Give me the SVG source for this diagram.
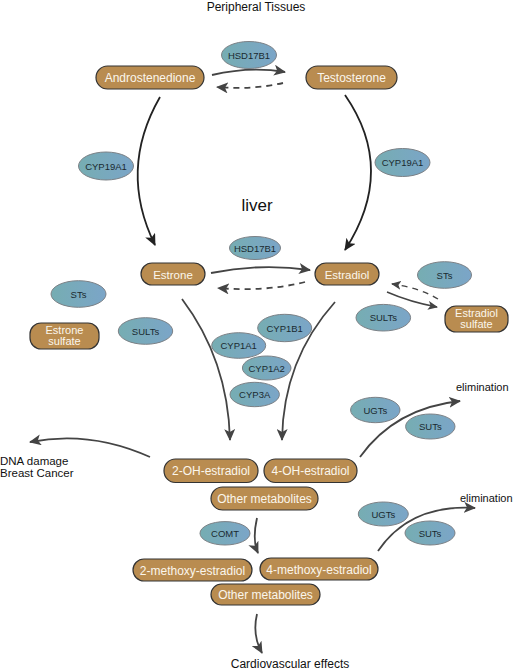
<svg xmlns="http://www.w3.org/2000/svg" width="513" height="671" viewBox="0 0 513 671">
<defs>
<linearGradient id="eg" x1="0" y1="0" x2="1" y2="0">
<stop offset="0" stop-color="#76adb2"/>
<stop offset="1" stop-color="#7ba5c8"/>
</linearGradient>
<marker id="ah" markerUnits="userSpaceOnUse" markerWidth="13" markerHeight="11" refX="11" refY="5.5" orient="auto">
<path d="M0,0 L12,5.5 L0,11 L3,5.5 z" fill="#444"/>
</marker>
<marker id="ahk" markerUnits="userSpaceOnUse" markerWidth="13" markerHeight="11" refX="11" refY="5.5" orient="auto">
<path d="M0,0 L12,5.5 L0,11 L3,5.5 z" fill="#222"/>
</marker>
<marker id="ahs" markerUnits="userSpaceOnUse" markerWidth="11" markerHeight="9" refX="9" refY="4.5" orient="auto">
<path d="M0,0 L10,4.5 L0,9 L2.5,4.5 z" fill="#444"/>
</marker>
</defs>
<style>
.n rect{fill:#b98c50;stroke:#333;stroke-width:1.2}
.n text{fill:#fbf6ec;font-family:"Liberation Sans",Arial,sans-serif;font-size:12px;text-anchor:middle}
.e ellipse{fill:url(#eg);stroke:#7c8186;stroke-width:1}
.e text{fill:#1a2a30;font-family:"Liberation Sans",Arial,sans-serif;font-size:9.5px;text-anchor:middle}
.lbl{fill:#111;font-family:"Liberation Sans",Arial,sans-serif;font-size:12px}
.c path{fill:none;stroke:#444;stroke-width:1.8;marker-end:url(#ah)}
.c path.k{stroke:#222;marker-end:url(#ahk)}
.c path.d{stroke-dasharray:6,5}
.c path.s{stroke-width:1.4;marker-end:url(#ahs)}
</style>

<text class="lbl" x="256" y="11" text-anchor="middle">Peripheral Tissues</text>
<text class="lbl" x="257" y="211" text-anchor="middle" style="font-size:17px">liver</text>
<text class="lbl" x="456" y="391" style="font-size:11px">elimination</text>
<text class="lbl" x="460" y="502" style="font-size:11px">elimination</text>
<text class="lbl" x="0" y="465" style="font-size:11.5px">DNA damage</text>
<text class="lbl" x="0" y="477" style="font-size:11.5px">Breast Cancer</text>
<text class="lbl" x="290" y="668" text-anchor="middle">Cardiovascular effects</text>

<g class="c" id="connectors">
<path d="M212,75 Q250,66 285,72"/>
<path class="d" d="M283,83 Q252,90 217,87"/>
<path class="k" d="M160,97 Q118,170 155,245"/>
<path class="k" d="M345,95 Q397,170 345,250"/>
<path d="M211,273 Q260,263 310,270"/>
<path class="d" d="M305,282 Q265,292 218,288"/>
<path class="d s" d="M438,299 Q420,288 392,284"/>
<path class="s" d="M387,292 Q410,302 437,307"/>
<path d="M182,299 Q228,360 230,440"/>
<path d="M335,302 Q283,360 282,440"/>
<path d="M360,457 Q395,408 460,401"/>
<path d="M150,457 Q90,430 30,442"/>
<path d="M378,551 Q410,504 475,508"/>
<path d="M257,518 Q252,540 258,553"/>
<path d="M257,614 Q252,635 262,653"/>
</g>

<g class="n" id="androstenedione"><rect x="96" y="66" width="108" height="23" rx="11.5"/><text x="150" y="82">Androstenedione</text></g>
<g class="n" id="testosterone"><rect x="306" y="66" width="91" height="23" rx="11.5"/><text x="351.5" y="82">Testosterone</text></g>
<g class="n" id="estrone"><rect x="141" y="263" width="64" height="22" rx="11"/><text x="173" y="278.5" style="font-size:11.5px">Estrone</text></g>
<g class="n" id="estradiol"><rect x="315" y="263" width="64" height="22" rx="11"/><text x="347" y="278.5" style="font-size:11.5px">Estradiol</text></g>
<g class="n" id="estrone-sulfate"><rect x="30" y="323" width="69" height="26" rx="11"/><text x="64.5" y="334" style="font-size:11px">Estrone</text><text x="64.5" y="345" style="font-size:11px">sulfate</text></g>
<g class="n" id="estradiol-sulfate"><rect x="445" y="306" width="63" height="26" rx="11"/><text x="476.5" y="317" style="font-size:11px">Estradiol</text><text x="476.5" y="328" style="font-size:11px">sulfate</text></g>
<g class="n" id="oh2"><rect x="164" y="459" width="94" height="23.5" rx="11.5"/><text x="211" y="475">2-OH-estradiol</text></g>
<g class="n" id="oh4"><rect x="264" y="459" width="93" height="23.5" rx="11.5"/><text x="310.5" y="475">4-OH-estradiol</text></g>
<g class="n" id="other1"><rect x="211" y="487" width="107" height="23" rx="11.5"/><text x="264.5" y="503">Other metabolites</text></g>
<g class="n" id="methoxy2"><rect x="133" y="559" width="119" height="22" rx="11"/><text x="192.5" y="574.5">2-methoxy-estradiol</text></g>
<g class="n" id="methoxy4"><rect x="260" y="558" width="118" height="22" rx="11"/><text x="319" y="573.5">4-methoxy-estradiol</text></g>
<g class="n" id="other2"><rect x="211" y="584" width="109" height="21" rx="10.5"/><text x="265.5" y="599">Other metabolites</text></g>

<g class="e" id="hsd17b1-a"><ellipse cx="249" cy="55" rx="27.5" ry="13.5"/><text x="249" y="58.5">HSD17B1</text></g>
<g class="e" id="hsd17b1-b"><ellipse cx="255" cy="248" rx="25.5" ry="11.5"/><text x="255" y="251.5">HSD17B1</text></g>
<g class="e" id="cyp19a1-a"><ellipse cx="106" cy="166" rx="27.5" ry="14"/><text x="106" y="169.5">CYP19A1</text></g>
<g class="e" id="cyp19a1-b"><ellipse cx="402.5" cy="162.5" rx="27.5" ry="14"/><text x="402.5" y="166">CYP19A1</text></g>
<g class="e" id="sts-a"><ellipse cx="444.5" cy="275" rx="27" ry="13.3"/><text x="444.5" y="278.5">STs</text></g>
<g class="e" id="sts-b"><ellipse cx="78.5" cy="294" rx="27.5" ry="13.3"/><text x="78.5" y="297.5">STs</text></g>
<g class="e" id="sults-a"><ellipse cx="145.5" cy="331" rx="27.2" ry="13.3"/><text x="145.5" y="334.5">SULTs</text></g>
<g class="e" id="sults-b"><ellipse cx="383.3" cy="317.7" rx="27.3" ry="13.3"/><text x="383.3" y="321.2">SULTs</text></g>
<g class="e" id="cyp1b1"><ellipse cx="284.7" cy="328" rx="27" ry="13.7"/><text x="284.7" y="331.5">CYP1B1</text></g>
<g class="e" id="cyp1a1"><ellipse cx="238.7" cy="345.5" rx="27" ry="12.8"/><text x="238.7" y="349">CYP1A1</text></g>
<g class="e" id="cyp1a2"><ellipse cx="266.7" cy="368" rx="24.3" ry="12"/><text x="266.7" y="371.5">CYP1A2</text></g>
<g class="e" id="cyp3a"><ellipse cx="254.7" cy="394.5" rx="24.7" ry="12.2"/><text x="254.7" y="398">CYP3A</text></g>
<g class="e" id="ugts-a"><ellipse cx="375.3" cy="410" rx="24.7" ry="12.7"/><text x="375.3" y="413.5">UGTs</text></g>
<g class="e" id="suts-a"><ellipse cx="430.3" cy="426.5" rx="24.7" ry="12.5"/><text x="430.3" y="430">SUTs</text></g>
<g class="e" id="ugts-b"><ellipse cx="383.3" cy="514" rx="25" ry="12"/><text x="383.3" y="517.5">UGTs</text></g>
<g class="e" id="suts-b"><ellipse cx="430" cy="533" rx="25" ry="12"/><text x="430" y="536.5">SUTs</text></g>
<g class="e" id="comt"><ellipse cx="225" cy="533.3" rx="25" ry="11.7"/><text x="225" y="536.8">COMT</text></g>
</svg>
